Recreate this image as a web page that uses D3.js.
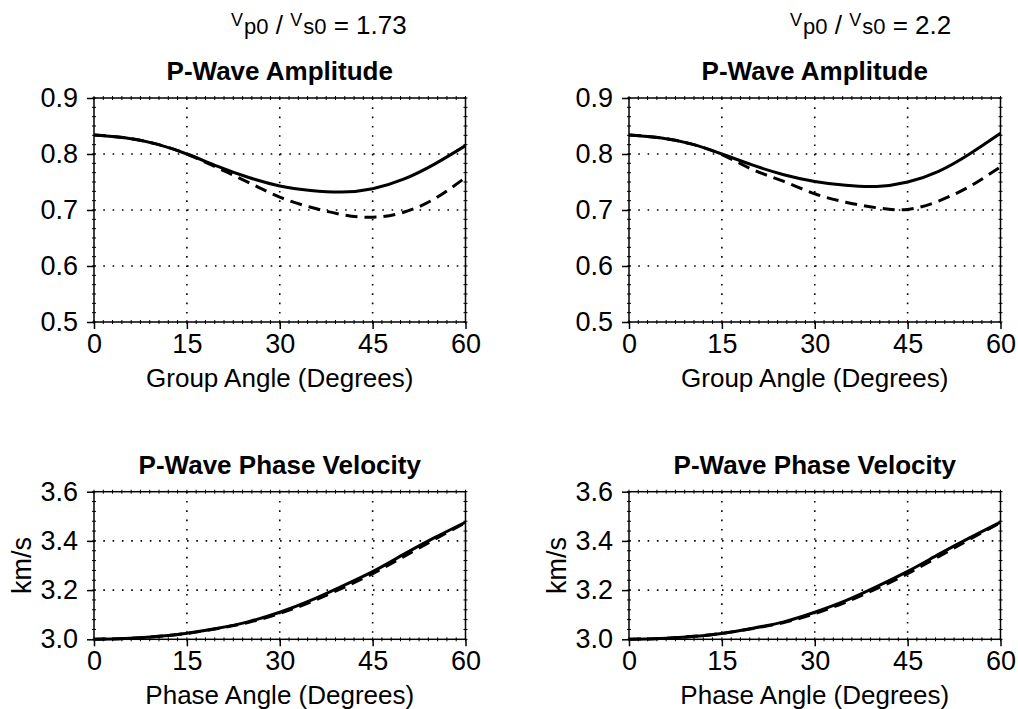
<!DOCTYPE html>
<html>
<head>
<meta charset="utf-8">
<script src="https://cdn.jsdelivr.net/npm/d3@7"></script>
<style>
  body { margin: 0; background: #fff; }
  svg { display: block; font-family: "Liberation Sans", Arial, sans-serif; }
</style>
</head>
<body>
<svg id="chart" width="1018" height="709"></svg>
<script>
const angles = [0, 5, 10, 15, 20, 25, 30, 35, 40, 45, 50, 55, 60];

// P-wave amplitude, Vp0/Vs0 = 1.73
const ampSolidA = [0.834, 0.829, 0.818, 0.800, 0.778, 0.758, 0.743, 0.735, 0.732, 0.738, 0.755, 0.782, 0.815];
const ampDashedA = [0.834, 0.829, 0.818, 0.800, 0.775, 0.749, 0.723, 0.705, 0.692, 0.687, 0.696, 0.720, 0.758];
// P-wave amplitude, Vp0/Vs0 = 2.2
const ampSolidB = [0.834, 0.829, 0.818, 0.800, 0.780, 0.763, 0.751, 0.744, 0.742, 0.750, 0.769, 0.800, 0.837];
const ampDashedB = [0.834, 0.829, 0.818, 0.799, 0.772, 0.751, 0.729, 0.714, 0.704, 0.701, 0.716, 0.742, 0.777];

// P-wave phase velocity (km/s)
const velSolidA = [3.000, 3.003, 3.011, 3.025, 3.045, 3.072, 3.110, 3.158, 3.215, 3.275, 3.345, 3.413, 3.476];
const velDashedA = [3.000, 3.003, 3.011, 3.024, 3.044, 3.069, 3.105, 3.152, 3.207, 3.267, 3.336, 3.406, 3.474];
const velSolidB = [3.000, 3.003, 3.011, 3.024, 3.045, 3.071, 3.110, 3.157, 3.214, 3.276, 3.345, 3.412, 3.476];
const velDashedB = [3.000, 3.003, 3.011, 3.024, 3.044, 3.068, 3.104, 3.151, 3.206, 3.267, 3.336, 3.406, 3.474];

const xTicks = [0, 15, 30, 45, 60];
const ampTicks = [0.5, 0.6, 0.7, 0.8, 0.9];
const velTicks = [3.0, 3.2, 3.4, 3.6];
const ratioLabels = ['1.73', '2.2'];

const svg = d3.select('#chart');
const fmt = d3.format('.1f');

function panel(opts) {
  const x = d3.scaleLinear().domain([0, 60]).range([opts.left, opts.right]);
  const y = d3.scaleLinear().domain(opts.yDomain).range([opts.bottom, opts.top]);
  const g = svg.append('g');

  // dotted grid, interior lines only
  g.selectAll('.gx').data(xTicks.slice(1, -1)).enter().append('line')
    .attr('x1', d => x(d)).attr('x2', d => x(d))
    .attr('y1', opts.top).attr('y2', opts.bottom)
    .attr('stroke', '#000').attr('stroke-width', 1.6).attr('stroke-dasharray', '1.6,7.7');
  g.selectAll('.gy').data(opts.yTicks.slice(1, -1)).enter().append('line')
    .attr('x1', opts.left).attr('x2', opts.right)
    .attr('y1', d => y(d)).attr('y2', d => y(d))
    .attr('stroke', '#000').attr('stroke-width', 1.6).attr('stroke-dasharray', '1.6,7.7');

  // minor ticks on all four sides
  const xMinor = d3.range(0, 60.001, 1.5);
  const yMinor = d3.range(opts.yDomain[0], opts.yDomain[1] + 1e-9, opts.yMinorStep);
  xMinor.forEach(v => {
    g.append('line').attr('x1', x(v)).attr('x2', x(v)).attr('y1', opts.bottom - 2).attr('y2', opts.bottom + 2).attr('stroke', '#000');
    g.append('line').attr('x1', x(v)).attr('x2', x(v)).attr('y1', opts.top - 2).attr('y2', opts.top + 2).attr('stroke', '#000');
  });
  yMinor.forEach(v => {
    g.append('line').attr('y1', y(v)).attr('y2', y(v)).attr('x1', opts.left - 2).attr('x2', opts.left + 2).attr('stroke', '#000');
    g.append('line').attr('y1', y(v)).attr('y2', y(v)).attr('x1', opts.right - 2).attr('x2', opts.right + 2).attr('stroke', '#000');
  });

  // axes with outward major ticks
  const xAxis = g.append('g').attr('transform', `translate(0,${opts.bottom})`)
    .call(d3.axisBottom(x).tickValues(xTicks).tickSize(7).tickSizeOuter(0).tickPadding(5));
  const yAxis = g.append('g').attr('transform', `translate(${opts.left},0)`)
    .call(d3.axisLeft(y).tickValues(opts.yTicks).tickFormat(fmt).tickSize(7).tickSizeOuter(0).tickPadding(9));
  [xAxis, yAxis].forEach(a => {
    a.select('.domain').remove();
    a.selectAll('.tick line').attr('stroke-width', 1.5);
    a.selectAll('.tick text').attr('font-size', 27).attr('fill', '#000').attr('font-family', null);
  });

  // frame
  g.append('rect')
    .attr('x', opts.left).attr('y', opts.top)
    .attr('width', opts.right - opts.left).attr('height', opts.bottom - opts.top)
    .attr('fill', 'none').attr('stroke', '#000').attr('stroke-width', 1.5);

  // curves
  const line = d3.line().x((d, i) => x(angles[i])).y(d => y(d)).curve(d3.curveNatural);
  g.append('path').datum(opts.dashed).attr('d', line)
    .attr('fill', 'none').attr('stroke', '#000').attr('stroke-width', 3).attr('stroke-dasharray', '12,7');
  g.append('path').datum(opts.solid).attr('d', line)
    .attr('fill', 'none').attr('stroke', '#000').attr('stroke-width', 3);

  // titles and labels
  const cx = (opts.left + opts.right) / 2;
  g.append('text').attr('x', cx).attr('y', opts.top - 18)
    .attr('text-anchor', 'middle').attr('font-size', 26).attr('font-weight', 'bold')
    .text(opts.title);
  g.append('text').attr('x', cx).attr('y', opts.bottom + 65)
    .attr('text-anchor', 'middle').attr('font-size', 26)
    .text(opts.xLabel);
  if (opts.yLabel) {
    g.append('text')
      .attr('transform', `translate(${opts.left - 63},${(opts.top + opts.bottom) / 2}) rotate(-90)`)
      .attr('text-anchor', 'middle').attr('font-size', 27)
      .text(opts.yLabel);
  }
}

const cols = [
  { left: 94, right: 465.5, ratioX: 231 },
  { left: 629, right: 1000.5, ratioX: 790 }
];
const ampData = [[ampSolidA, ampDashedA], [ampSolidB, ampDashedB]];
const velData = [[velSolidA, velDashedA], [velSolidB, velDashedB]];

cols.forEach((c, i) => {
  panel({
    left: c.left, right: c.right, top: 98, bottom: 322,
    yDomain: [0.5, 0.9], yTicks: ampTicks, yMinorStep: 0.1 / 6,
    solid: ampData[i][0], dashed: ampData[i][1],
    title: 'P-Wave Amplitude', xLabel: 'Group Angle (Degrees)'
  });
  panel({
    left: c.left, right: c.right, top: 491.7, bottom: 639.3,
    yDomain: [3.0, 3.6], yTicks: velTicks, yMinorStep: 0.04,
    solid: velData[i][0], dashed: velData[i][1],
    title: 'P-Wave Phase Velocity', xLabel: 'Phase Angle (Degrees)', yLabel: 'km/s'
  });

  // Vp0 / Vs0 header
  const t = svg.append('text').attr('x', c.ratioX).attr('y', 34).attr('font-size', 26);
  t.append('tspan').attr('font-size', 18).attr('dy', -8).text('V');
  t.append('tspan').attr('font-size', 22).attr('dy', 8).attr('dx', 1).text('p0');
  t.append('tspan').text(' / ');
  t.append('tspan').attr('font-size', 18).attr('dy', -8).text('V');
  t.append('tspan').attr('font-size', 22).attr('dy', 8).attr('dx', 1).text('s0');
  t.append('tspan').text(' = ' + ratioLabels[i]);
});
</script>
</body>
</html>
